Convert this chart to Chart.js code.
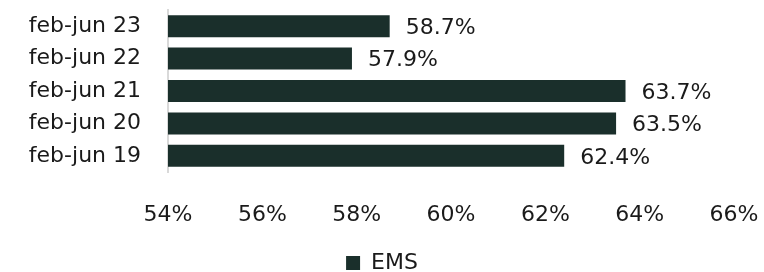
<!DOCTYPE html>
<html>
<head>
<meta charset="utf-8">
<script src="https://cdn.jsdelivr.net/npm/chart.js@4"></script>
<style>
  html, body { margin: 0; padding: 0; background: #fff; }
  #wrap { width: 764px; height: 272px; }
</style>
</head>
<body>
<div id="wrap"><canvas id="thisChart"></canvas></div>
<script>
const periods = ["feb-jun 23", "feb-jun 22", "feb-jun 21", "feb-jun 20", "feb-jun 19"]
const emsValues = [58.7, 57.9, 63.7, 63.5, 62.4]
const seriesLabel = "EMS"
const xMin = 54, xMax = 66, xStep = 2

const barColor = "#1a2f2b"
const fontFamily = "'DejaVu Sans', sans-serif"
const fontSize = 22

// draws the value next to each bar end
const valueLabels = {
  id: "valueLabels",
  afterDatasetsDraw(chart) {
    const ctx = chart.ctx
    const meta = chart.getDatasetMeta(0)
    ctx.save()
    ctx.font = fontSize + "px " + fontFamily
    ctx.fillStyle = "#1a1a1a"
    ctx.textBaseline = "middle"
    ctx.textAlign = "left"
    meta.data.forEach((bar, i) => {
      ctx.fillText(emsValues[i].toFixed(1) + "%", bar.x + 16, bar.y + 2)
    })
    ctx.restore()
  }
}

const data = {
  labels: periods,
  datasets: [{
    label: seriesLabel,
    data: emsValues,
    backgroundColor: barColor,
    borderWidth: 0,
    categoryPercentage: 1,
    barPercentage: 0.68,
  }]
}

const config = {
  type: "bar",
  data,
  options: {
    indexAxis: "y",
    responsive: true,
    maintainAspectRatio: false,
    animation: false,
    layout: { padding: { top: 10, right: 0, left: 0, bottom: -12 } },
    scales: {
      x: {
        min: xMin,
        max: xMax,
        grid: { display: false },
        border: { display: false },
        afterFit: (scale) => {
          scale.height = 80
          scale.paddingLeft = 0
          scale.paddingRight = 30
        },
        ticks: {
          stepSize: xStep,
          padding: 22,
          color: "#1a1a1a",
          font: { size: fontSize, family: fontFamily },
          callback: (v) => v + "%",
        },
      },
      y: {
        grid: { display: false },
        border: { color: "#d9d9d9", width: 2 },
        afterFit: (scale) => {
          scale.width = 168
          scale.paddingTop = 0
          scale.paddingBottom = 0
        },
        ticks: {
          autoSkip: false,
          padding: 19,
          color: "#1a1a1a",
          font: { size: fontSize, family: fontFamily },
        },
      },
    },
    plugins: {
      legend: {
        position: "bottom",
        labels: {
          boxWidth: 14,
          boxHeight: 14,
          color: "#1a1a1a",
          padding: 0,
          font: { size: fontSize, family: fontFamily },
        },
      },
      tooltip: { enabled: false },
    },
  },
  plugins: [valueLabels],
}

const barChart = new Chart(document.getElementById("thisChart").getContext("2d"), config)
</script>
</body>
</html>
